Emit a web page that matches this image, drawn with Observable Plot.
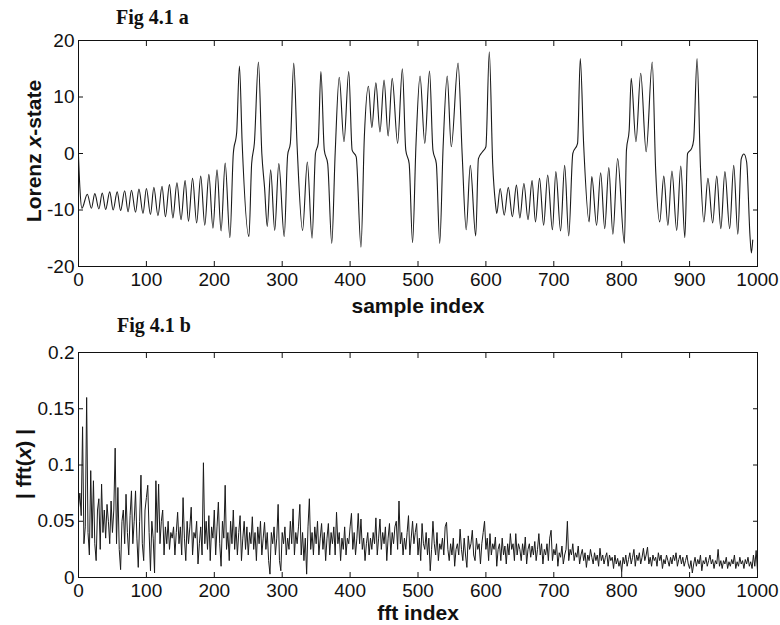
<!DOCTYPE html>
<html><head><meta charset="utf-8">
<script src="https://cdn.jsdelivr.net/npm/d3@7"></script>
<script src="https://cdn.jsdelivr.net/npm/@observablehq/plot@0.6"></script>
<style>
body{margin:0;background:#fff;}
#wrap{position:relative;width:780px;height:625px;overflow:hidden;background:#fff;}
.fig{position:absolute;font-family:"Liberation Serif","Times New Roman",serif;font-weight:bold;font-size:20px;color:#111;line-height:1;white-space:nowrap;}
.lab{position:absolute;font-family:"Liberation Sans",Arial,sans-serif;font-weight:bold;font-size:21px;color:#111;line-height:1;white-space:nowrap;transform:translate(-50%,-50%);}
.rot{transform:translate(-50%,-50%) rotate(-90deg);}
.pl{position:absolute;left:0;}
</style></head><body><div id="wrap">
<div class="fig" style="left:116px;top:7px;">Fig 4.1 a</div>
<div class="fig" style="left:117px;top:315px;">Fig 4.1 b</div>
<div class="lab rot" style="left:33px;top:151px;">Lorenz <i>x</i>-state</div>
<div class="lab" style="left:418px;top:305px;">sample index</div>
<div class="lab rot" style="left:23px;top:464px;">| fft(<i>x</i>) |</div>
<div class="lab" style="left:418px;top:612px;">fft index</div>
<div class="pl" id="p1" style="top:0px;"></div>
<div class="pl" id="p2" style="top:320px;"></div>
</div>
<script>
const xTicks = [0,100,200,300,400,500,600,700,800,900,1000];
const yTicksA = [-20,-10,0,10,20];
const yTicksB = [0,0.05,0.1,0.15,0.2];
const yTickLabelsB = ["0","0.05","0.1","0.15","0.2"];

const sampleIndex = [0,2,5,13,19,24,30,35,40,46,51,57,62,68,73,78,84,89,95,100,106,111,117,123,128,134,139,145,151,157,162,168,174,180,186,192,198,204,210,216,223,228,233,237,241,251,255,259,265,270,274,278,283,289,295,303,308,312,317,322,330,337,344,349,353,357,362,367,373,378,384,391,398,403,409,416,421,427,432,438,444,450,456,462,470,477,482,487,492,497,503,510,517,522,527,532,537,543,549,559,565,571,577,585,589,595,600,605,610,614,616,621,627,633,639,645,650,656,662,668,673,679,685,691,698,703,710,716,722,728,735,739,744,752,756,763,769,775,781,787,794,804,807,811,814,821,828,836,845,850,856,862,868,874,881,887,893,897,903,906,911,916,921,927,934,940,946,952,959,965,971,976,980,984,989,991,993];
const lorenzX = [-0.5,-6,-9.7,-7.2,-9.7,-7.1,-9.8,-7.0,-9.9,-6.8,-10.0,-6.8,-10.1,-6.6,-10.3,-6.5,-10.4,-6.3,-10.6,-6.2,-10.8,-6.0,-11.0,-5.8,-11.2,-5.5,-11.4,-5.2,-11.7,-4.8,-12.0,-4.4,-12.3,-4.0,-12.7,-3.7,-13.2,-2.9,-13.7,-1.7,-14.9,0,3.8,15.5,2,-14.7,-1.8,1.8,16.2,0,-6,-12.9,-2.9,-13.6,-1.8,-14.7,-0.3,1.8,16.0,1.2,-13.6,-1.5,-15.0,0,1.8,14.5,0.6,-1.8,-15.9,0,13.5,2.1,14.5,0.6,-0.6,-16.6,3,11.9,4.6,12.5,3.8,13.0,3.1,13.3,1.8,15.0,0.6,-1.8,-15.8,1.5,13.7,1.8,14.6,0.6,-1.8,-15.9,1.2,13.7,1.2,16.0,0,-13.5,-2.1,-14.6,-0.9,0.3,1.2,18.0,-1.8,-8.8,-10.6,-6.2,-10.9,-6.0,-11.2,-5.6,-11.4,-5.3,-11.7,-4.8,-12.1,-4.4,-12.7,-3.8,-13.5,-3.2,-13.7,-2.1,-14.6,0,1.8,16.8,1.5,-12.1,-4.1,-12.7,-3.4,-13.3,-2.5,-14.3,-0.9,-15.9,0.6,4.1,13.3,2.1,14.2,0.3,16.2,-2.9,-12.1,-4.0,-12.7,-3.1,-13.6,-2.2,-14.9,0,0.9,2.4,16.8,-2.4,-12.1,-4.4,-12.3,-4.0,-13.3,-3.2,-13.3,-2.1,-14.3,-1,-0.1,-1.5,-14.7,-17.6,-15.3];

const fftStep = 2;
const fftMag = [
.062,.075,.055,.134,.03,.045,.16,.04,.02,.095,.035,.086,.03,.015,.06,.07,.025,.083,.04,.06,.035,.065,.05,.03,.068,
.04,.06,.115,.03,.08,.025,.007,.05,.06,.03,.074,.04,.02,.055,.077,.03,.05,.077,.035,.009,.05,.091,.03,.015,.06,
.071,.082,.04,.006,.05,.035,.004,.086,.04,.083,.03,.05,.06,.02,.045,.03,.05,.025,.04,.035,.045,.02,.04,.058,.03,
.045,.02,.071,.035,.015,.05,.03,.045,.0625,.02,.04,.035,.05,.012,.03,.045,.02,.102,.03,.05,.025,.055,.015,.045,.035,
.06,.02,.045,.067,.03,.01,.05,.035,.082,.025,.04,.015,.05,.03,.06,.025,.045,.02,.04,.055,.015,.035,.05,.025,.045,
.02,.04,.03,.054,.025,.04,.015,.045,.03,.05,.02,.035,.049,.025,.04,.015,.003,.04,.03,.045,.02,.035,.065,.015,.006,
.04,.03,.045,.02,.035,.025,.05,.03,.061,.02,.04,.03,.045,.065,.02,.04,.015,.035,.003,.045,.07,.025,.04,.02,.045,
.03,.05,.02,.035,.048,.025,.04,.015,.035,.048,.02,.04,.03,.045,.02,.058,.03,.04,.015,.035,.025,.045,.02,.035,.03,
.045,.057,.025,.04,.02,.035,.057,.03,.052,.025,.035,.015,.03,.04,.02,.035,.025,.04,.03,.053,.02,.035,.052,.025,.04,
.03,.045,.015,.035,.048,.02,.04,.03,.045,.05,.025,.068,.03,.04,.02,.035,.025,.04,.055,.02,.035,.05,.03,.04,.048,
.02,.035,.015,.048,.03,.025,.04,.02,.035,.006,.025,.05,.03,.02,.04,.015,.03,.025,.035,.02,.045,.049,.025,.015,.03,
.02,.035,.01,.025,.03,.02,.043,.025,.015,.035,.02,.009,.037,.025,.03,.042,.02,.015,.035,.025,.03,.012,.03,.04,.05,
.025,.035,.015,.039,.02,.03,.025,.036,.01,.025,.03,.015,.035,.02,.028,.012,.03,.02,.039,.025,.03,.015,.039,.02,.03,
.025,.015,.03,.02,.036,.012,.025,.03,.018,.028,.02,.032,.015,.025,.039,.02,.03,.012,.025,.02,.03,.015,.035,.042,.015,
.025,.02,.03,.01,.022,.018,.028,.012,.02,.025,.05,.015,.025,.02,.03,.015,.022,.018,.028,.012,.02,.025,.015,.022,.009,
.02,.015,.025,.018,.012,.022,.015,.02,.01,.026,.015,.02,.012,.018,.022,.01,.02,.015,.018,.008,.02,.012,.017,.01,.015,
.005,.018,.012,.02,.01,.016,.022,.012,.018,.025,.01,.02,.015,.022,.012,.018,.026,.015,.02,.027,.012,.018,.01,.02,.015,
.018,.01,.022,.015,.02,.008,.016,.012,.02,.015,.01,.018,.012,.02,.015,.022,.01,.016,.02,.012,.018,.01,.015,.02,.012,
.008,.015,.004,.012,.018,.01,.016,.012,.02,.006,.015,.012,.018,.01,.015,.02,.012,.016,.008,.015,.012,.025,.01,.015,.008,
.015,.012,.018,.008,.014,.01,.016,.012,.02,.008,.014,.01,.018,.012,.015,.008,.016,.012,.018,.01,.014,.008,.02,.01,.024,.006
];

const tickFont = '"Liberation Sans",Arial,sans-serif';
const ink = "#111";

function frameAxes(yTicks, yFmt) {
  const tf = {fontFamily: tickFont, fontSize: 19, fill: ink};
  return [
    Plot.frame({stroke: ink, strokeWidth: 1}),
    Plot.axisX(xTicks, {anchor: "bottom", tickSize: 5, dy: -5, tickFormat: () => "", label: null, stroke: ink}),
    Plot.axisX(xTicks, {anchor: "top", tickSize: 5, dy: 5, tickFormat: () => "", label: null, stroke: ink}),
    Plot.axisY(yTicks, {anchor: "left", tickSize: 5, dx: 5, tickFormat: () => "", label: null, stroke: ink}),
    Plot.axisY(yTicks, {anchor: "right", tickSize: 5, dx: -5, tickFormat: () => "", label: null, stroke: ink}),
    Plot.axisX(xTicks, {anchor: "bottom", tickSize: 0, tickPadding: 6, tickFormat: d => String(d), label: null, ...tf}),
    Plot.axisY(yTicks, {anchor: "left", tickSize: 0, tickPadding: 4, tickFormat: yFmt, label: null, ...tf})
  ];
}

const p1 = Plot.plot({
  width: 780, height: 320,
  marginLeft: 78, marginRight: 23, marginTop: 40, marginBottom: 54,
  x: {domain: [0, 1000]},
  y: {domain: [-20, 20]},
  style: {background: "transparent", fontFamily: tickFont},
  marks: [
    Plot.line(lorenzX, {x: sampleIndex, y: lorenzX, curve: "monotone-x", stroke: "#1a1a1a", strokeWidth: 1.1}),
    ...frameAxes(yTicksA, d => String(d))
  ]
});
document.getElementById("p1").appendChild(p1);

const p2 = Plot.plot({
  width: 780, height: 305,
  marginLeft: 78, marginRight: 23, marginTop: 32, marginBottom: 48,
  x: {domain: [0, 1000]},
  y: {domain: [0, 0.2]},
  style: {background: "transparent", fontFamily: tickFont},
  marks: [
    Plot.line(fftMag, {x: (d, i) => i * fftStep, y: d => d, stroke: "#1a1a1a", strokeWidth: 1}),
    ...frameAxes(yTicksB, (d, i) => yTickLabelsB[i])
  ]
});
document.getElementById("p2").appendChild(p2);
</script>
</body></html>
